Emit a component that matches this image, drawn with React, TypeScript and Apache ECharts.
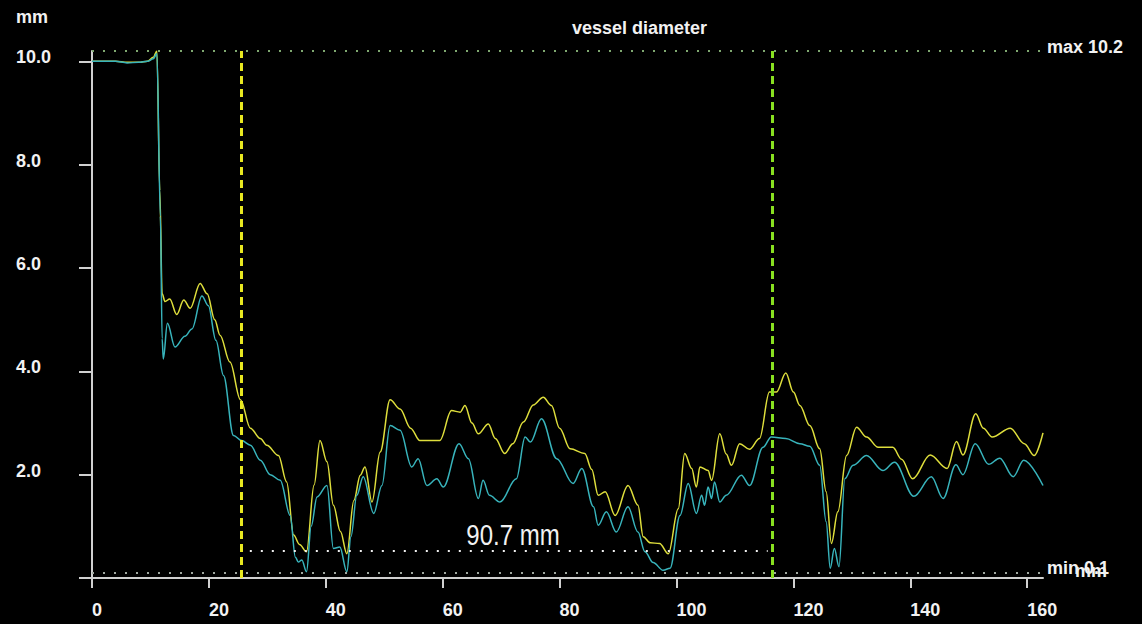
import React, { useEffect, useRef } from "react";
import * as echarts from "echarts";

// outer (yellow) vessel contour diameter, [position mm, diameter mm]
const outerDiameter: [number, number][] = [
  [0, 10.0], [4, 10.0], [6, 9.98], [8, 9.98], [9.5, 10.0], [10.5, 10.08], [11.1, 10.2],
  [11.6, 7.5], [12.0, 5.5], [12.5, 5.35], [13.3, 5.4], [14.5, 5.1], [15.7, 5.38],
  [16.8, 5.22], [18.5, 5.7], [19.7, 5.5], [21.0, 5.0], [21.9, 4.7], [23.6, 4.18],
  [25.4, 3.45], [27.1, 2.9], [28.8, 2.7], [29.9, 2.57], [31.9, 2.37], [33.3, 1.86],
  [34.5, 0.83], [35.5, 0.65], [36.7, 0.51], [38.0, 1.8], [39.0, 2.66], [40.2, 2.25],
  [41.3, 1.41], [42.5, 0.9], [43.6, 0.47], [44.8, 1.5], [45.9, 1.99], [46.7, 2.15],
  [47.9, 1.47], [49.3, 2.44], [51.0, 3.45], [52.7, 3.27], [54.5, 2.9], [56.1, 2.66],
  [59.5, 2.66], [61.5, 3.24], [63.0, 3.21], [63.8, 3.34], [65.0, 3.0], [66.1, 2.79],
  [67.8, 2.98], [69.0, 2.7], [70.6, 2.41], [72.0, 2.6], [73.8, 3.02], [75.5, 3.35],
  [77.2, 3.5], [78.6, 3.34], [80.0, 2.9], [81.8, 2.5], [84.3, 2.41], [85.5, 2.1],
  [86.6, 1.6], [87.8, 1.67], [89.5, 1.21], [91.7, 1.79], [93.4, 1.41], [94.3, 0.8],
  [95.5, 0.68], [97.1, 0.67], [98.6, 0.47], [100.3, 1.34], [101.4, 2.41], [102.6, 2.12],
  [103.4, 1.76], [104.0, 2.15], [105.4, 2.08], [106.0, 1.89], [107.4, 2.79], [108.5, 2.4],
  [109.4, 2.18], [110.8, 2.6], [112.5, 2.49], [114.2, 2.7], [115.9, 3.6], [117.1, 3.6],
  [118.7, 3.97], [120.0, 3.6], [121.1, 3.34], [122.8, 2.95], [124.5, 2.5], [125.6, 1.67],
  [126.5, 0.67], [127.6, 1.28], [129.1, 2.37], [130.8, 2.92], [132.5, 2.73], [134.5, 2.53],
  [137.0, 2.53], [138.5, 2.3], [140.4, 1.92], [143.4, 2.38], [146.3, 2.12], [147.9, 2.64],
  [149.0, 2.38], [151.2, 3.18], [152.5, 2.9], [154.0, 2.73], [157.1, 2.9], [159.5, 2.6],
  [161.2, 2.37], [162.7, 2.81],
];

// inner (cyan) lumen diameter, [position mm, diameter mm]
const innerDiameter: [number, number][] = [
  [0, 10.0], [4, 10.0], [6, 9.97], [8, 9.98], [9.5, 10.0], [10.5, 10.05], [11.1, 10.15],
  [11.7, 7.0], [12.0, 4.63], [12.2, 4.24], [12.9, 4.93], [14.2, 4.47], [15.9, 4.68],
  [17.1, 4.82], [18.8, 5.46], [19.9, 5.27], [21.2, 4.6], [22.5, 3.92], [24.2, 2.76],
  [25.6, 2.66], [27.1, 2.57], [28.8, 2.28], [30.5, 2.0], [32.2, 1.89], [33.9, 1.21],
  [34.8, 0.4], [35.3, 0.31], [35.9, 0.35], [36.7, 0.12], [37.5, 1.0], [38.5, 1.57],
  [40.2, 1.79], [41.3, 0.57], [42.4, 0.6], [43.6, 0.12], [44.3, 0.8], [45.3, 1.6],
  [46.4, 1.96], [48.2, 1.25], [49.6, 1.79], [51.0, 2.95], [52.7, 2.86], [54.7, 2.15],
  [55.8, 2.31], [57.3, 1.79], [59.0, 1.92], [60.1, 1.76], [62.8, 2.6], [64.4, 2.31],
  [66.1, 1.54], [66.9, 1.89], [68.0, 1.6], [69.8, 1.47], [72.6, 1.92], [74.1, 2.73],
  [75.0, 2.63], [76.9, 3.08], [79.5, 2.31], [82.3, 1.83], [83.8, 2.12], [85.8, 1.38],
  [86.6, 1.02], [88.0, 1.28], [89.7, 0.89], [91.7, 1.38], [93.4, 0.89], [94.6, 0.51],
  [96.0, 0.3], [97.7, 0.15], [98.9, 0.19], [100.6, 1.21], [102.0, 1.83], [103.4, 1.25],
  [104.3, 1.6], [104.8, 1.41], [105.4, 1.76], [106.0, 1.54], [106.5, 1.86], [107.4, 1.47],
  [108.5, 1.6], [111.1, 1.99], [112.5, 1.79], [114.8, 2.53], [116.2, 2.73], [118.7, 2.7],
  [121.1, 2.6], [122.8, 2.55], [124.5, 2.18], [125.6, 1.09], [126.3, 0.19], [127.0, 0.57],
  [127.8, 0.22], [128.8, 1.92], [130.2, 2.18], [132.5, 2.37], [135.3, 2.08], [137.3, 2.24],
  [140.6, 1.58], [143.6, 1.96], [145.6, 1.54], [147.8, 2.19], [149.0, 2.0], [151.1, 2.6],
  [153.4, 2.2], [155.3, 2.32], [157.6, 1.96], [159.4, 2.28], [162.7, 1.79],
];

const xTicks = [0, 20, 40, 60, 80, 100, 120, 140, 160];
const yTicks = [0, 2, 4, 6, 8, 10];
const yLabelValues = [2, 4, 6, 8, 10];
const xMax = 162.7;
const maxDiameter = 10.2;
const minDiameter = 0.1;
const markerStart = 25.5;
const markerEnd = 116.3;
const measureFrom = 27.0;
const measureTo = 115.6;
const measureLevel = 0.52;
const measureLabel = "90.7 mm";
const titleText = "vessel diameter";
const unitText = "mm";

const FONT = "'Liberation Sans', Arial, sans-serif";
const TXT = "#f2f2f2";
const FS = 18;

export default function App() {
  const ref = useRef<HTMLDivElement>(null);
  useEffect(() => {
    if (!ref.current) return;
    const chart = echarts.init(ref.current, null, { renderer: "svg" });
    chart.setOption({
      animation: false,
      backgroundColor: "#000000",
      title: {
        text: titleText,
        left: 567,
        top: 14,
        textStyle: { color: TXT, fontFamily: FONT, fontWeight: "bold", fontSize: FS },
      },
      grid: { left: 92, right: 99, top: 51, bottom: 46 },
      xAxis: {
        type: "value",
        min: 0,
        max: xMax,
        splitLine: { show: false },
        axisLine: { show: true, lineStyle: { color: "#d0d0d0", width: 2 } },
        axisTick: { show: true, length: 10, customValues: xTicks, lineStyle: { color: "#d0d0d0", width: 2 } },
        axisLabel: {
          customValues: xTicks,
          align: "left",
          margin: 23,
          color: TXT,
          fontFamily: FONT,
          fontWeight: "bold",
          fontSize: FS,
        },
      },
      yAxis: {
        type: "value",
        min: 0,
        max: maxDiameter,
        splitLine: { show: false },
        axisLine: { show: true, lineStyle: { color: "#d0d0d0", width: 2 } },
        axisTick: { show: true, length: 13, customValues: yTicks, lineStyle: { color: "#d0d0d0", width: 2 } },
        axisLabel: {
          customValues: yLabelValues,
          align: "left",
          verticalAlign: "bottom",
          lineHeight: 8,
          margin: 76,
          color: TXT,
          fontFamily: FONT,
          fontWeight: "bold",
          fontSize: FS,
          formatter: (v: number) => v.toFixed(1),
        },
      },
      graphic: [
        {
          type: "text",
          left: 16,
          top: 8,
          style: { text: unitText, fill: TXT, font: `bold ${FS}px ${FONT}` },
        },
        {
          type: "text",
          left: 1075,
          top: 562,
          z: 10,
          style: { text: unitText, fill: TXT, font: `bold ${FS}px ${FONT}` },
        },
        {
          type: "text",
          x: 513,
          y: 535,
          scaleX: 0.8,
          z: 10,
          style: {
            x: 0,
            y: 0,
            text: measureLabel,
            fill: TXT,
            align: "center",
            verticalAlign: "middle",
            font: `normal 30px ${FONT}`,
          },
        },
      ],
      series: [
        {
          type: "line",
          name: "outer",
          data: outerDiameter,
          smooth: 0.35,
          smoothMonotone: "x",
          showSymbol: false,
          lineStyle: { color: "#dede3c", width: 1.5 },
          z: 3,
          markLine: {
            silent: true,
            symbol: "none",
            animation: false,
            data: [
              {
                yAxis: maxDiameter,
                lineStyle: { color: "#7fa870", type: [2, 9], width: 2 },
                label: {
                  show: true,
                  position: "end",
                  distance: 4,
                  offset: [0, -4],
                  formatter: `max ${maxDiameter.toFixed(1)}`,
                  color: TXT,
                  fontFamily: FONT,
                  fontWeight: "bold",
                  fontSize: FS,
                },
              },
              {
                yAxis: minDiameter,
                lineStyle: { color: "#a0a8a0", type: [2, 9], width: 2 },
                label: {
                  show: true,
                  position: "end",
                  distance: 4,
                  offset: [0, -5],
                  formatter: `min ${minDiameter.toFixed(1)}`,
                  color: TXT,
                  fontFamily: FONT,
                  fontWeight: "bold",
                  fontSize: FS,
                },
              },
              [
                {
                  coord: [measureFrom, measureLevel],
                  lineStyle: { color: "#f0f0f0", type: [2, 9], width: 2 },
                  label: { show: false },
                },
                { coord: [measureTo, measureLevel] },
              ],
              {
                xAxis: markerStart,
                lineStyle: { color: "#e8e820", type: [8, 5], width: 3 },
                label: { show: false },
              },
              {
                xAxis: markerEnd,
                lineStyle: { color: "#88e020", type: [8, 5], width: 3 },
                label: { show: false },
              },
            ],
          },
        },
        {
          type: "line",
          name: "inner",
          data: innerDiameter,
          smooth: 0.35,
          smoothMonotone: "x",
          showSymbol: false,
          lineStyle: { color: "#38b4bc", width: 1.5 },
          z: 4,
        },
      ],
    });
    return () => chart.dispose();
  }, []);
  return (
    <div
      ref={ref}
      style={{ position: "fixed", left: 0, top: 0, width: 1142, height: 624, background: "#000" }}
    />
  );
}
